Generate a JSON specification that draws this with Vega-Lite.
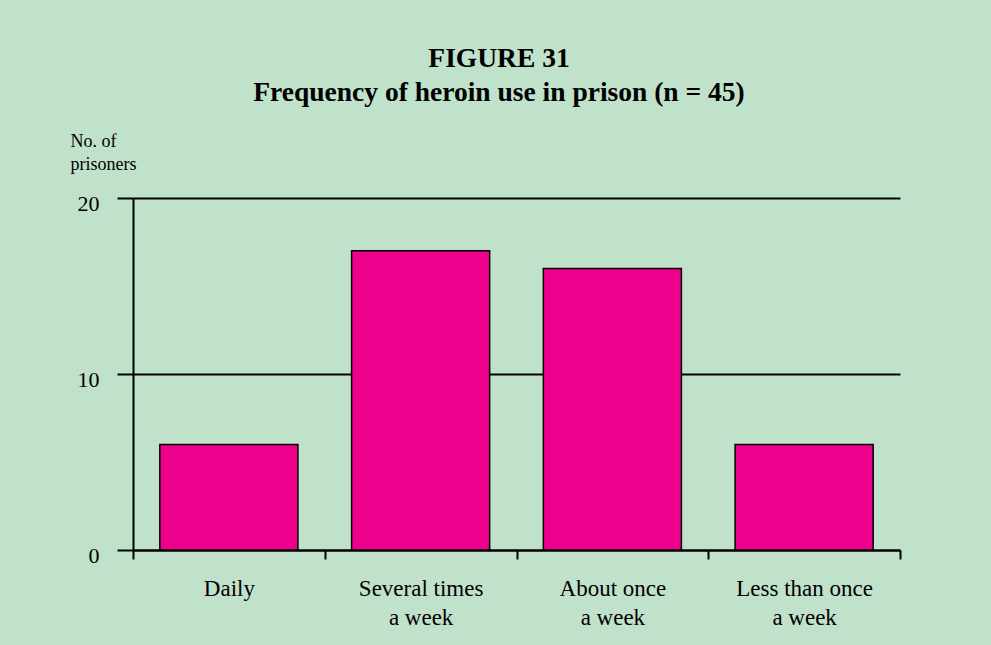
{
  "$schema": "https://vega.github.io/schema/vega-lite/v6.json",
  "width": 767,
  "height": 352,
  "autosize": {"type": "none"},
  "padding": {"left": 133, "top": 198, "right": 91, "bottom": 95},
  "background": "#c0e2cb",
  "title": {
    "text": ["FIGURE 31", "Frequency of heroin use in prison (n = 45)"],
    "font": "Liberation Serif",
    "fontSize": 27.5,
    "fontWeight": "bold",
    "color": "black",
    "anchor": "middle",
    "dx": -17.5,
    "lineHeight": 34,
    "offset": 26
  },
  "data": {
    "values": [
      {"frequency": "Daily", "prisoners": 6},
      {"frequency": "Several times a week", "prisoners": 17},
      {"frequency": "About once a week", "prisoners": 16},
      {"frequency": "Less than once a week", "prisoners": 6}
    ]
  },
  "mark": {"type": "bar", "color": "#ec008c", "stroke": "black", "strokeWidth": 1.5, "width": {"band": 0.72}},
  "encoding": {
    "x": {
      "field": "frequency",
      "type": "nominal",
      "sort": null,
      "scale": {"padding": 0},
      "axis": {
        "title": null,
        "tickBand": "extent",
        "tickSize": 9,
        "tickWidth": 2,
        "tickColor": "black",
        "domainColor": "black",
        "domainWidth": 2,
        "labelAngle": 0,
        "labelFont": "Liberation Serif",
        "labelFontSize": 23,
        "labelColor": "black",
        "labelPadding": 36,
        "labelBaseline": "alphabetic",
        "labelLineHeight": 29,
        "labelExpr": "!isValid(datum.value) ? '' : (datum.value == 'Daily' ? 'Daily' : split(replace(datum.value, ' a week', '|a week'), '|'))"
      }
    },
    "y": {
      "field": "prisoners",
      "type": "quantitative",
      "scale": {"domain": [0, 20], "nice": false},
      "axis": {
        "values": [0, 10, 20],
        "grid": true,
        "gridColor": "black",
        "gridWidth": 2,
        "gridOpacity": 1,
        "tickColor": "black",
        "tickSize": 16,
        "tickWidth": 2,
        "domainColor": "black",
        "domainWidth": 2,
        "labelFont": "Liberation Serif",
        "labelFontSize": 22,
        "labelColor": "black",
        "labelPadding": 18,
        "labelBaseline": "alphabetic",
        "labelOffset": 12,
        "title": ["No. of", "prisoners"],
        "titleFont": "Liberation Serif",
        "titleFontSize": 18,
        "titleFontWeight": "normal",
        "titleColor": "black",
        "titleAngle": 0,
        "titleX": -63,
        "titleY": -52,
        "titleAlign": "left",
        "titleBaseline": "alphabetic",
        "titleLineHeight": 23
      }
    }
  },
  "config": {"view": {"stroke": null}}
}
